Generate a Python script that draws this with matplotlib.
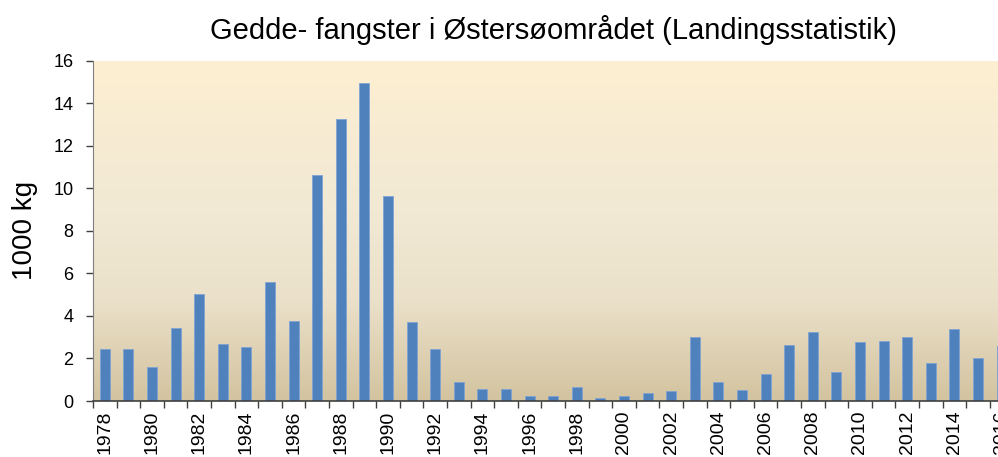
import matplotlib
matplotlib.use("Agg")
import matplotlib.pyplot as plt
import numpy as np
from matplotlib.colors import LinearSegmentedColormap

years = list(range(1978, 2017))
values = [2.45, 2.45, 1.6, 3.45, 5.05, 2.7, 2.56, 5.57, 3.78, 10.64,
          13.24, 14.93, 9.65, 3.73, 2.42, 0.89, 0.56, 0.56, 0.24, 0.24,
          0.66, 0.14, 0.24, 0.39, 0.49, 3.03, 0.91, 0.53, 1.29, 2.65,
          3.26, 1.38, 2.79, 2.84, 3.03, 1.8, 3.4, 2.04, 2.6]
title = "Gedde- fangster i Østersøområdet (Landingsstatistik)"
ylabel = "1000 kg"

plt.rcParams['font.family'] = ['Liberation Sans', 'DejaVu Sans']

fig = plt.figure(figsize=(9.98, 4.57), dpi=100)
W, H = 998, 457
left, top, bottom = 93, 60.5, 401
catw = 23.6
n = len(years)
ax = fig.add_axes([left / W, (H - bottom) / H, n * catw / W, (bottom - top) / H])

x = np.arange(n)
ax.set_xlim(-0.5, n - 0.5)
ax.set_ylim(0, 16)

# gradient background
cmap = LinearSegmentedColormap.from_list(
    "bg", [(0.0, "#D3C39F"), (0.3, "#EBE1CA"), (0.55, "#F1E9D4"), (1.0, "#FDEFD1")])
grad = np.linspace(0, 1, 256).reshape(-1, 1)
ax.imshow(grad, aspect="auto", cmap=cmap, origin="lower",
          extent=[-0.5, n - 0.5, 0, 16], zorder=0)

ax.bar(x, values, width=0.42, color="#4F81BD", edgecolor="#7FA3D3",
       linewidth=0.6, zorder=2)

ax.set_yticks(np.arange(0, 17, 2))
ax.set_yticklabels([str(v) for v in range(0, 17, 2)], fontsize=13)
major = [i for i, y in enumerate(years) if y % 2 == 0]
ax.set_xticks(major)
ax.set_xticklabels([str(years[i]) for i in major], rotation=90, fontsize=14)
ax.set_xticks(np.arange(-0.5, n, 1.0), minor=True)
ax.tick_params(axis="x", which="major", length=0, pad=7)
ax.tick_params(axis="x", which="minor", length=5, color="#404040", width=1)
ax.tick_params(axis="y", length=5, color="#404040", width=1, pad=9)

for s in ["top", "right"]:
    ax.spines[s].set_visible(False)
ax.spines["left"].set_color("#7F7F7F")
ax.spines["bottom"].set_color("#404040")
ax.spines["bottom"].set_linewidth(1.2)

fig.text(553 / W, 1 - 30 / H, title, ha="center", va="center", fontsize=21)
fig.text(25 / W, 1 - 230 / H, ylabel, ha="center", va="center",
         rotation=90, fontsize=20)

fig.savefig("out.png", dpi=100)
